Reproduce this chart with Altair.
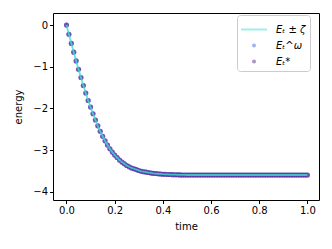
import altair as alt
import pandas as pd

time = [0.00, 0.01, 0.02, 0.03, 0.04, 0.05, 0.06, 0.07, 0.08, 0.09,
        0.10, 0.11, 0.12, 0.13, 0.14, 0.15, 0.16, 0.17, 0.18, 0.19,
        0.20, 0.21, 0.22, 0.23, 0.24, 0.25, 0.26, 0.27, 0.28, 0.29,
        0.30, 0.31, 0.32, 0.33, 0.34, 0.35, 0.36, 0.37, 0.38, 0.39,
        0.40, 0.41, 0.42, 0.43, 0.44, 0.45, 0.46, 0.47, 0.48, 0.49,
        0.50, 0.51, 0.52, 0.53, 0.54, 0.55, 0.56, 0.57, 0.58, 0.59,
        0.60, 0.61, 0.62, 0.63, 0.64, 0.65, 0.66, 0.67, 0.68, 0.69,
        0.70, 0.71, 0.72, 0.73, 0.74, 0.75, 0.76, 0.77, 0.78, 0.79,
        0.80, 0.81, 0.82, 0.83, 0.84, 0.85, 0.86, 0.87, 0.88, 0.89,
        0.90, 0.91, 0.92, 0.93, 0.94, 0.95, 0.96, 0.97, 0.98, 0.99,
        1.00]

energy = [0.00, -0.22, -0.44, -0.65, -0.86, -1.06, -1.26, -1.45, -1.63, -1.81,
          -1.97, -2.13, -2.28, -2.42, -2.55, -2.67, -2.78, -2.88, -2.97, -3.05,
          -3.12, -3.18, -3.24, -3.29, -3.33, -3.37, -3.40, -3.43, -3.45, -3.47,
          -3.49, -3.51, -3.52, -3.53, -3.54, -3.55, -3.56, -3.565, -3.57, -3.575,
          -3.58, -3.583, -3.586, -3.589, -3.591, -3.593, -3.595, -3.597, -3.598, -3.599,
          -3.60, -3.60, -3.60, -3.60, -3.60, -3.60, -3.60, -3.60, -3.60, -3.60,
          -3.60, -3.60, -3.60, -3.60, -3.60, -3.60, -3.60, -3.60, -3.60, -3.60,
          -3.60, -3.60, -3.60, -3.60, -3.60, -3.60, -3.60, -3.60, -3.60, -3.60,
          -3.60, -3.60, -3.60, -3.60, -3.60, -3.60, -3.60, -3.60, -3.60, -3.60,
          -3.60, -3.60, -3.60, -3.60, -3.60, -3.60, -3.60, -3.60, -3.60, -3.60,
          -3.60]

energy_omega = list(energy)
energy_star = list(energy)

legend_labels = ["Eₜ ± ζ", "Eₜ^ω", "Eₜ*"]
legend_colors = ["#40e0d0", "#4169e1", "#5b2a9c"]
legend_shapes = [
    "M-1,-0.095H1.48V0.095H-1Z",
    "M0.05,0A0.19,0.19,0,1,1,0.43,0A0.19,0.19,0,1,1,0.05,0Z",
    "M0.05,0A0.19,0.19,0,1,1,0.43,0A0.19,0.19,0,1,1,0.05,0Z",
]
x_ticks = [0.0, 0.2, 0.4, 0.6, 0.8, 1.0]
y_ticks = [-4, -3, -2, -1, 0]

df = pd.DataFrame({"time": time, "line": energy, "omega": energy_omega, "star": energy_star})

x_scale = alt.Scale(domain=[-0.056, 1.048], nice=False, zero=False)
y_scale = alt.Scale(domain=[-4.2, 0.29], nice=False, zero=False)
x_enc = alt.X("time:Q", scale=x_scale,
              axis=alt.Axis(values=x_ticks, format=".1f", title="time", titlePadding=6))


def y_enc(field):
    return alt.Y(f"{field}:Q", scale=y_scale,
                 axis=alt.Axis(values=y_ticks, format="d", title="energy", titlePadding=9))


base = alt.Chart(df)
omega_layer = base.mark_circle(size=26, opacity=0.5, color=legend_colors[1]).encode(
    x=x_enc, y=y_enc("omega"))
star_layer = base.mark_circle(size=26, opacity=0.7, color=legend_colors[2]).encode(
    x=x_enc, y=y_enc("star"))
line_layer = base.mark_line(color="#40e0d0", strokeWidth=1.8, opacity=0.8).encode(
    x=x_enc, y=y_enc("line"))

leg = alt.Legend(title=None, orient="none", legendX=184, legendY=2,
                 padding=4, fillColor="white", strokeColor="#cccccc",
                 cornerRadius=3, labelOffset=14, rowPadding=0,
                 symbolSize=441, symbolStrokeWidth=0,
                 labelFont="DejaVu Sans", labelFontStyle="italic",
                 labelFontSize=10, labelColor="black")

legend_df = pd.DataFrame({"series": legend_labels})
legend_layer = alt.Chart(legend_df).transform_filter("false").mark_point(
    filled=True, size=441, opacity=0.5).encode(
    color=alt.Color("series:N", scale=alt.Scale(domain=legend_labels, range=legend_colors), legend=leg),
    shape=alt.Shape("series:N", scale=alt.Scale(domain=legend_labels, range=legend_shapes), legend=leg),
)

chart = alt.layer(omega_layer, star_layer, line_layer, legend_layer).properties(
    width=266, height=187,
    autosize=alt.AutoSizeParams(type="none"),
    padding={"left": 45, "top": 5, "right": 5, "bottom": 40},
).configure_view(
    stroke="black", strokeWidth=1
).configure_axis(
    domain=False, grid=False, tickColor="black", tickSize=3.5, tickWidth=1,
    labelFont="DejaVu Sans", labelFontSize=10, labelColor="black", labelPadding=2,
    titleFont="DejaVu Sans", titleFontSize=10, titleFontWeight="normal", titleColor="black",
)

chart.save("out.html", embed_options={"renderer": "svg", "actions": False})
